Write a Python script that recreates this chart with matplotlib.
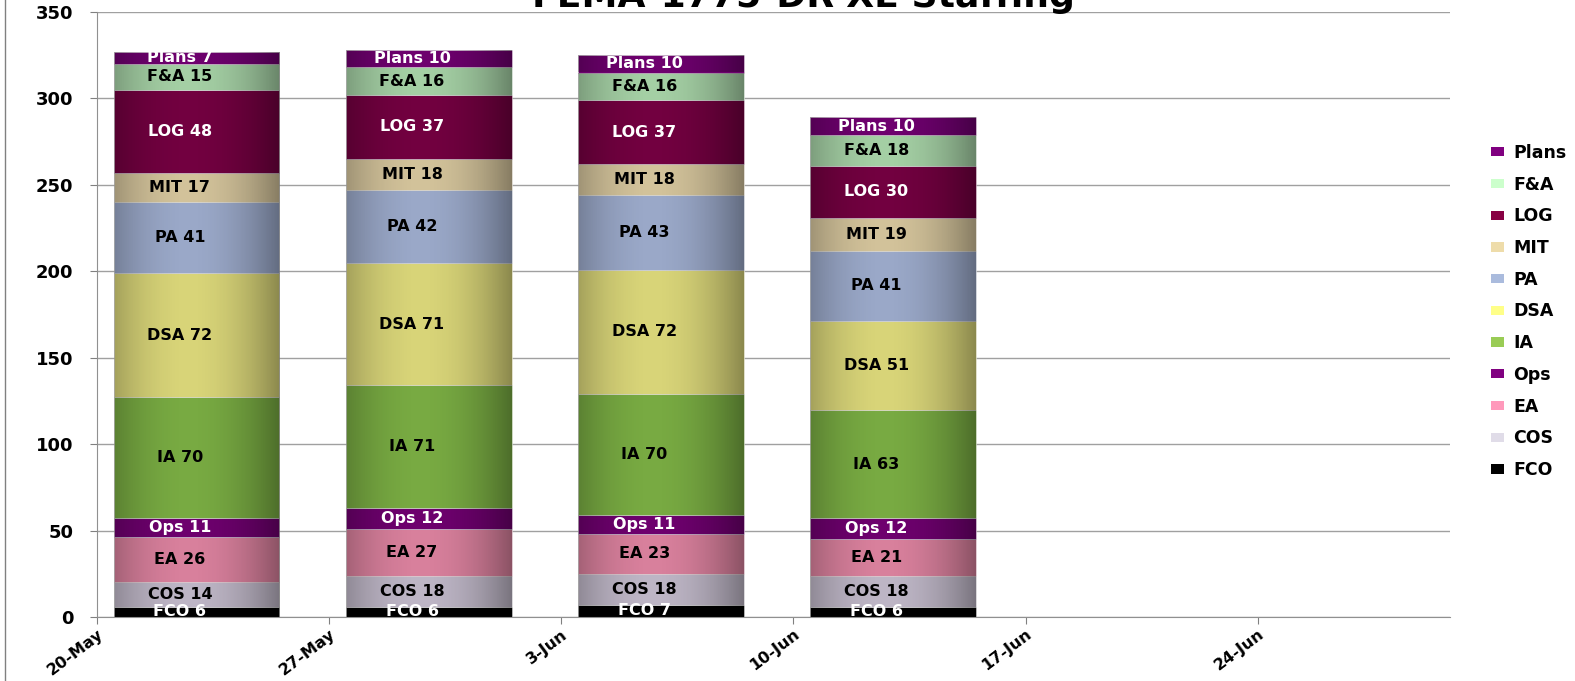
import datetime as dt
import numpy as np
import matplotlib
matplotlib.use("Agg")
import matplotlib.pyplot as plt
import matplotlib.dates as mdates
from matplotlib.patches import Patch
from matplotlib.lines import Line2D

plt.rcParams['font.family'] = ['DejaVu Sans']
plt.rcParams['font.weight'] = 'bold'

# data, bottom to top
weeks = [dt.date(2008, 5, 23), dt.date(2008, 5, 30), dt.date(2008, 6, 6), dt.date(2008, 6, 13)]
sections = ['FCO', 'COS', 'EA', 'Ops', 'IA', 'DSA', 'PA', 'MIT', 'LOG', 'F&A', 'Plans']
FCO = [6, 6, 7, 6]
COS = [14, 18, 18, 18]
EA = [26, 27, 23, 21]
Ops = [11, 12, 11, 12]
IA = [70, 71, 70, 63]
DSA = [72, 71, 72, 51]
PA = [41, 42, 43, 41]
MIT = [17, 18, 18, 19]
LOG = [48, 37, 37, 30]
FA = [15, 16, 16, 18]
Plans = [7, 10, 10, 10]
values = [FCO, COS, EA, Ops, IA, DSA, PA, MIT, LOG, FA, Plans]

tick_dates = [dt.date(2008, 5, 20), dt.date(2008, 5, 27), dt.date(2008, 6, 3),
              dt.date(2008, 6, 10), dt.date(2008, 6, 17), dt.date(2008, 6, 24)]
tick_labels = ['20-May', '27-May', '3-Jun', '10-Jun', '17-Jun', '24-Jun']

bar_colors = ['#000000', '#bdb5c5', '#d8809c', '#6e006e', '#78aa42', '#d8d478',
              '#9aa8c8', '#d2c29a', '#720040', '#a4cfa4', '#6e006e']
legend_colors = ['#000000', '#e0dce8', '#ff99bb', '#800080', '#99cc55', '#ffff88',
                 '#aabbdd', '#eedcaa', '#880044', '#ccffcc', '#800080']
text_colors = ['white', 'black', 'black', 'white', 'black', 'black',
               'black', 'black', 'white', 'black', 'white']

fig = plt.figure(figsize=(15.75, 6.81), dpi=100)
ax = fig.add_axes([97/1575, 1 - 617/681, (1450-97)/1575, (617-12)/681])

x = mdates.date2num(weeks)
width = 5.0
bottom = np.zeros(len(weeks))

# horizontal shading for the cylinder look
prof = np.linspace(0, 1, 200)
shade = np.zeros((1, 200, 4))
shade[..., 3] = 0.36 * ((prof - 0.45) / 0.55) ** 2

for i, name in enumerate(sections):
    vals = np.array(values[i], dtype=float)
    bars = ax.bar(x, vals, width=width, bottom=bottom, color=bar_colors[i],
                  edgecolor='#d8d8d8', linewidth=0.4, zorder=2)
    for b, v, bt in zip(bars, vals, bottom):
        im = ax.imshow(shade, extent=[b.get_x(), b.get_x() + width, bt, bt + v],
                       aspect='auto', interpolation='bilinear', zorder=3)
        im.set_clip_path(b)
        # labels sit a bit left of the bar centre in the original
        ax.text(b.get_x() + width / 2 - 0.5, bt + v / 2, f'{name} {int(v)}',
                ha='center', va='center', fontsize=11.5, fontweight='bold',
                color=text_colors[i], zorder=4)
    bottom += vals

ax.set_xlim(mdates.date2num(dt.date(2008, 5, 20)), mdates.date2num(dt.date(2008, 5, 20)) + 40.8)
ax.set_ylim(0, 350)
ax.set_yticks(range(0, 351, 50))
ax.set_xticks(mdates.date2num(tick_dates))
ax.set_xticklabels(tick_labels, rotation=37, ha='right', va='top',
                   rotation_mode='anchor', fontsize=11.5, fontweight='bold')
ax.tick_params(axis='y', labelsize=13, length=5, pad=12, color='#808080')
ax.tick_params(axis='x', length=5, pad=2, color='#808080')
for lb in ax.get_yticklabels():
    lb.set_fontweight('bold')
ax.grid(axis='y', color='#a0a0a0', linewidth=1, zorder=0)
ax.set_axisbelow(True)
for s in ['top', 'right']:
    ax.spines[s].set_visible(False)
for s in ['left', 'bottom']:
    ax.spines[s].set_color('#909090')

fig.text(803/1575, 1 - 7/681, 'FEMA-1775-DR-XE Staffing', ha='center', va='baseline',
         fontsize=26, fontweight='bold')

handles = [Patch(facecolor=legend_colors[i], label=sections[i]) for i in range(len(sections))][::-1]
fig.legend(handles=handles, loc='center left', bbox_to_anchor=(1484/1575, 1 - 311.5/681),
           frameon=False, handlelength=0.75, handleheight=0.45,
           handletextpad=0.55, labelspacing=0.79, borderaxespad=0,
           prop={'weight': 'bold', 'size': 12.5})

fig.add_artist(Line2D([5/1575, 5/1575], [0, 1], color='#808080', linewidth=1))

fig.savefig('out.png', dpi=100)
